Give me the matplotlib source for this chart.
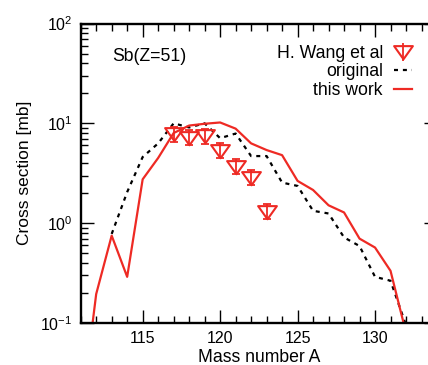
import matplotlib
matplotlib.use("Agg")
import matplotlib.pyplot as plt
from matplotlib.path import Path

plt.rcParams['font.family'] = ['Liberation Sans', 'DejaVu Sans']
plt.rcParams['mathtext.fontset'] = 'custom'
plt.rcParams['mathtext.rm'] = 'Liberation Sans'

# this work (red solid)
A_work = list(range(111, 133))
work = [0.011, 0.195, 0.75, 0.29, 2.75, 4.5, 8.0, 9.5, 9.9, 10.2, 8.85, 6.3,
        5.4, 4.8, 2.65, 2.15, 1.51, 1.28, 0.70, 0.57, 0.333, 0.08]

# original (black dotted)
A_orig = list(range(113, 134))
orig = [0.78, 2.05, 4.6, 6.3, 10.0, 9.1, 10.0, 7.1, 7.9, 4.7, 4.7, 2.55, 2.36,
        1.33, 1.25, 0.72, 0.59, 0.29, 0.265, 0.095, 0.01]

# H. Wang et al (exp)
A_exp = [117, 118, 119, 120, 121, 122, 123]
exp = [7.8, 7.2, 7.4, 5.3, 3.66, 2.86, 1.3]
exp_lo = [1.24, 1.15, 1.18, 0.84, 0.58, 0.45, 0.21]
exp_hi = [1.47, 1.36, 1.40, 1.0, 0.69, 0.54, 0.25]

red = '#ee2a24'

# flat inverted triangle like gnuplot's
tri = Path([(-1, 0.68), (1, 0.68), (0, -0.72), (-1, 0.68)],
           [Path.MOVETO, Path.LINETO, Path.LINETO, Path.CLOSEPOLY])

fig = plt.figure(figsize=(4.28, 3.65), dpi=100)
ax = fig.add_axes([80.7/428, 42/365, 356.3/428, 299.5/365])

ax.plot(A_orig, orig, color='black', lw=1.6, ls=(0, (1.8, 2.2)), label='original')
ax.plot(A_work, work, color=red, lw=1.6, label='this work')
ax.errorbar(A_exp, exp, yerr=[exp_lo, exp_hi], fmt='none', ecolor=red,
            elinewidth=1.3, capsize=3, capthick=1.3)
ax.plot(A_exp, exp, ls='none', marker=tri, ms=13.5, mfc='none', mec=red, mew=1.5)
eb = ax.errorbar([], [], yerr=[], fmt='none', ecolor=red, elinewidth=1.3,
                 capsize=3, capthick=1.3)
mk, = ax.plot([], [], ls='none', marker=tri, ms=13.5, mfc='none', mec=red, mew=1.5)

ax.set_yscale('log')
ax.set_xlim(111, 134)
ax.set_ylim(0.1, 100)
ax.set_xticks([115, 120, 125, 130])
ax.set_xticks(range(111, 135), minor=True)

for s in ax.spines.values():
    s.set_linewidth(1.7)
ax.tick_params(which='both', direction='in', top=True, right=True, labelsize=11.5)
ax.tick_params(which='major', length=9.5, width=1.0, pad=6)
ax.tick_params(which='minor', length=5, width=1.0)

ax.set_xlabel('Mass number A', fontsize=12.7, labelpad=2)
ax.set_ylabel('Cross section [mb]', fontsize=12.5, labelpad=6)

ax.text(0.087, 0.89, 'Sb(Z=51)', transform=ax.transAxes, fontsize=12.7,
        ha='left', va='center')

h, l = ax.get_legend_handles_labels()
fig.legend([(mk, eb), h[0], h[1]], ['H. Wang et al', l[0], l[1]], loc='upper right',
           bbox_to_anchor=(412/428, 1 - 45/365), frameon=False, markerfirst=False,
           fontsize=12.7, handlelength=1.0, handletextpad=0.65, labelspacing=0.08,
           borderpad=0, borderaxespad=0)

fig.savefig('out.png', dpi=100)
